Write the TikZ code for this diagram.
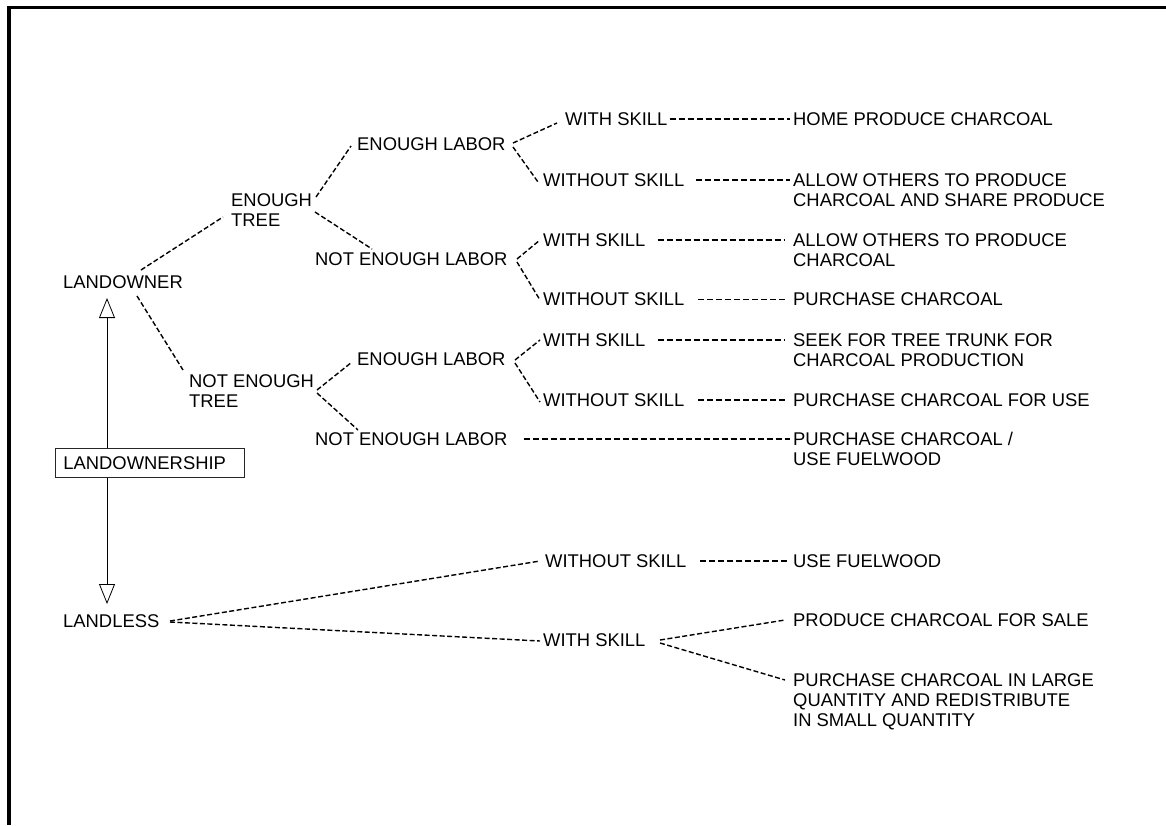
\documentclass[tikz,border=0pt]{standalone}
\usepackage{fontspec}
\setmainfont{Liberation Sans}
\usetikzlibrary{arrows.meta,calc}
\begin{document}
\begin{tikzpicture}[x=1pt,y=-1pt,
  lbl/.style={inner sep=0pt, anchor=west, font=\fontsize{18.4}{20}\selectfont, text depth=0pt},
  mlbl/.style={inner sep=0pt, anchor=north west, align=left, font=\fontsize{18.4}{20}\selectfont},
  conn/.style={draw, line width=1.4pt, dash pattern=on 5pt off 2.5pt},
  hconn/.style={draw, line width=1.4pt, dash pattern=on 6pt off 3pt},
  thinconn/.style={draw, line width=0.7pt, dash pattern=on 6pt off 3pt},
  openarrow/.style={draw, line width=0.8pt, -{Triangle[open,length=20pt,width=16pt]}}]
\useasboundingbox (0,0) rectangle (1166,825);
\fill[white] (0,0) rectangle (1166,825);
% frame
\draw[line width=3pt] (7,7.5) -- (1166,7.5);
\draw[line width=3.5pt] (9,6) -- (9,825);

% root nodes
\node[lbl] (lo) at (63,282) {LANDOWNER};
\node[draw, black!85, text=black, line width=0.8pt, inner xsep=8pt, inner ysep=0pt,
      minimum height=29pt, text width=173pt, anchor=north west,
      font=\fontsize{18.4}{20}\selectfont] (ls) at (55,448) {LANDOWNERSHIP};
\node[lbl] (ll) at (63,621) {LANDLESS};

% tree level
\node[mlbl] (et) at (231,193.4) {ENOUGH\\TREE};
\node[mlbl] (net) at (189,374.4) {NOT ENOUGH\\TREE};

% labor level
\node[lbl] (el1) at (357,144) {ENOUGH LABOR};
\node[lbl] (nel1) at (315,259) {NOT ENOUGH LABOR};
\node[lbl] (el2) at (357,359) {ENOUGH LABOR};
\node[lbl] (nel2) at (315,439) {NOT ENOUGH LABOR};

% skill level
\node[lbl] (ws1) at (565,119) {WITH SKILL};
\node[lbl] (wos1) at (543,180) {WITHOUT SKILL};
\node[lbl] (ws2) at (543,240) {WITH SKILL};
\node[lbl] (wos2) at (543,299) {WITHOUT SKILL};
\node[lbl] (ws3) at (543,340) {WITH SKILL};
\node[lbl] (wos3) at (543,400) {WITHOUT SKILL};
\node[lbl] (wos4) at (545,561) {WITHOUT SKILL};
\node[lbl] (ws4) at (543,640) {WITH SKILL};

% outcomes
\node[lbl] (o1) at (793,119) {HOME PRODUCE CHARCOAL};
\node[mlbl] (o2) at (793,173.4) {ALLOW OTHERS TO PRODUCE\\CHARCOAL AND SHARE PRODUCE};
\node[mlbl] (o3) at (793,233.4) {ALLOW OTHERS TO PRODUCE\\CHARCOAL};
\node[lbl] (o4) at (793,299) {PURCHASE CHARCOAL};
\node[mlbl] (o5) at (793,333.4) {SEEK FOR TREE TRUNK FOR\\CHARCOAL PRODUCTION};
\node[lbl] (o6) at (793,400) {PURCHASE CHARCOAL FOR USE};
\node[mlbl] (o7) at (793,432.4) {PURCHASE CHARCOAL /\\USE FUELWOOD};
\node[lbl] (o8) at (793,561) {USE FUELWOOD};
\node[lbl] (o9) at (793,620) {PRODUCE CHARCOAL FOR SALE};
\node[mlbl] (o10) at (793,673.4) {PURCHASE CHARCOAL IN LARGE\\QUANTITY AND REDISTRIBUTE\\IN SMALL QUANTITY};

% ownership arrows
\draw[openarrow] ($(ls.north west)+(52,0)$) -- ($(lo.west)+(44,16)$);
\draw[openarrow] ($(ls.south west)+(52,0)$) -- ($(ll.west)+(44,-17)$);

% diagonal connectors
\path[conn] ($(lo.west)+(78,-12)$) -- ($(et.north west)+(-8,23.6)$);
\path[conn] ($(lo.west)+(74,14)$) -- ($(net.north west)+(-6,-4.4)$);
\path[conn] ($(et.north west)+(85,3.6)$) -- ($(el1.west)+(-6,2)$);
\path[conn] ($(et.north west)+(84,18.6)$) -- ($(nel1.west)+(57,-10)$);
\path[conn] ($(el1.west)+(156,-1)$) -- ($(ws1.west)+(-8,4)$);
\path[conn] ($(el1.west)+(156,3)$) -- ($(wos1.west)+(-5,2)$);
\path[conn] ($(nel1.west)+(202,0)$) -- ($(ws2.west)+(-3,0)$);
\path[conn] ($(nel1.west)+(202,3)$) -- ($(wos2.west)+(-3,1)$);
\path[conn] ($(net.north west)+(128,15.6)$) -- ($(el2.west)+(-5,3)$);
\path[conn] ($(net.north west)+(128,18.6)$) -- ($(nel2.west)+(43,-9)$);
\path[conn] ($(el2.west)+(158,1)$) -- ($(ws3.west)+(-3,0)$);
\path[conn] ($(el2.west)+(158,4)$) -- ($(wos3.west)+(-3,2)$);
\path[conn] ($(ll.west)+(107,0)$) -- ($(wos4.west)+(-5,0)$);
\path[conn] ($(ll.west)+(107,1)$) -- ($(ws4.west)+(-3,1)$);
\path[conn] ($(ws4.west)+(117,0)$) -- ($(o9.west)+(-8,0)$);
\path[conn] ($(ws4.west)+(117,3)$) -- ($(o10.north west)+(-8,6.6)$);

% horizontal connectors
\path[hconn] ($(ws1.east)+(2,0)$) -- ($(o1.west)+(-3,0)$);
\path[hconn] ($(wos1.east)+(12,0)$) -- ($(o2.north west)+(-3,6.6)$);
\path[hconn] ($(ws2.east)+(12,0)$) -- ($(o3.north west)+(-8,6.6)$);
\path[thinconn] ($(wos2.east)+(14,0)$) -- ($(o4.west)+(-8,0)$);
\path[hconn] ($(ws3.east)+(12,0)$) -- ($(o5.north west)+(-8,6.6)$);
\path[hconn] ($(wos3.east)+(14,0)$) -- ($(o6.west)+(-8,0)$);
\path[hconn] ($(nel2.east)+(16,0)$) -- ($(o7.north west)+(-3,6.6)$);
\path[hconn] ($(wos4.east)+(14,0)$) -- ($(o8.west)+(-3,0)$);
\end{tikzpicture}
\end{document}
